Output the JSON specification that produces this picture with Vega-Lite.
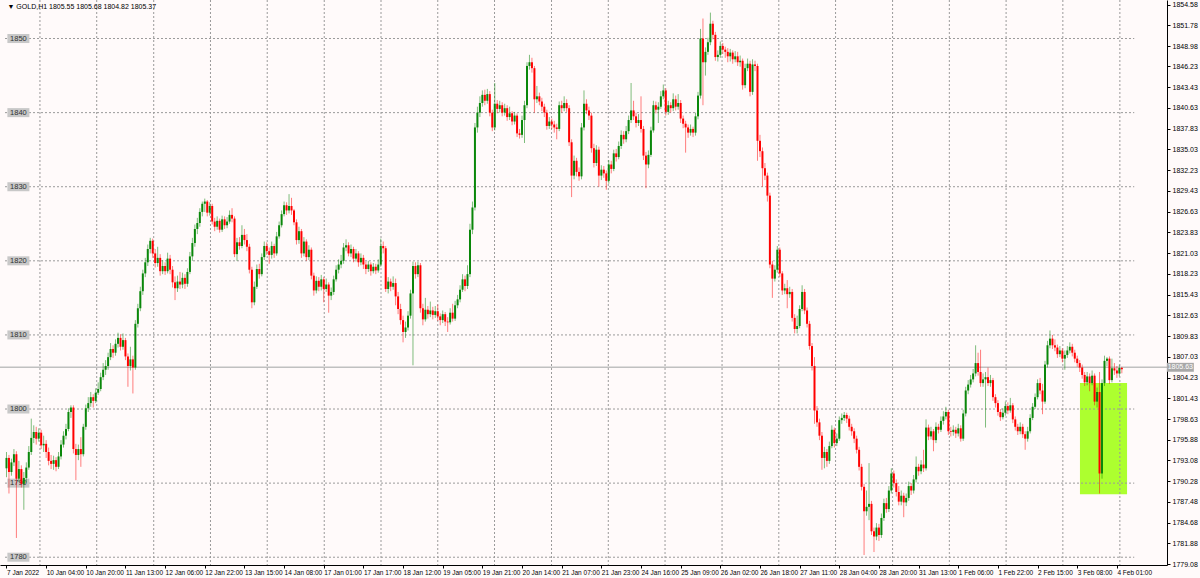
{
"$schema":"https://vega.github.io/schema/vega-lite/v6.json",
"width":1167,"height":565,
"autosize":{"type":"none"},
"padding":{"left":0,"top":0,"right":33,"bottom":13},
"background":"#fffafa",
"config":{"view":{"stroke":null},"axis":{"labelFont":"Liberation Sans","labelColor":"#000000","domainColor":"#000000","tickColor":"#000000","labelOverlap":false,"labelFlush":false,"labelBound":false,"grid":false,"title":null}},
"datasets":{
"head":[{"t":"▼ GOLD,H1  1805.55 1805.68 1804.82 1805.37"}],
"levels":[{"p":1780},{"p":1790},{"p":1800},{"p":1810},{"p":1820},{"p":1830},{"p":1840},{"p":1850}],
"vgrid":[{"g":13.5},{"g":36.4},{"g":59.4},{"g":82.3},{"g":105.2},{"g":128.2},{"g":151.1},{"g":174.0},{"g":196.9},{"g":219.9},{"g":242.8},{"g":265.7},{"g":288.7},{"g":311.6},{"g":334.5},{"g":357.5},{"g":380.4},{"g":403.3},{"g":426.2},{"g":449.2}],
"box":[{"x1":433.1,"x2":452.1,"y1":1788.5,"y2":1803.5}],
"bid":[{"p":1805.63,"t":"1805.63"}],
"bars":[
{"i":0,"o":1792.0,"h":1794.2,"l":1790.8,"c":1793.4},
{"i":1,"o":1793.4,"h":1793.8,"l":1788.6,"c":1791.5},
{"i":2,"o":1791.5,"h":1793.3,"l":1791.0,"c":1792.8},
{"i":3,"o":1792.8,"h":1794.6,"l":1792.3,"c":1793.9},
{"i":4,"o":1793.9,"h":1794.3,"l":1782.6,"c":1790.6},
{"i":5,"o":1790.6,"h":1793.0,"l":1790.2,"c":1791.9},
{"i":6,"o":1791.9,"h":1792.4,"l":1789.4,"c":1789.9},
{"i":7,"o":1789.9,"h":1791.5,"l":1786.4,"c":1790.7},
{"i":8,"o":1790.7,"h":1792.8,"l":1790.1,"c":1792.1},
{"i":9,"o":1792.1,"h":1795.0,"l":1791.8,"c":1794.2},
{"i":10,"o":1794.2,"h":1798.7,"l":1793.8,"c":1796.1},
{"i":11,"o":1796.1,"h":1797.8,"l":1795.4,"c":1796.9},
{"i":12,"o":1796.9,"h":1797.6,"l":1795.2,"c":1796.0},
{"i":13,"o":1796.0,"h":1797.4,"l":1795.6,"c":1796.8},
{"i":14,"o":1796.8,"h":1797.2,"l":1794.6,"c":1795.1},
{"i":15,"o":1795.1,"h":1796.4,"l":1794.2,"c":1795.3},
{"i":16,"o":1795.3,"h":1795.8,"l":1793.4,"c":1794.2},
{"i":17,"o":1794.2,"h":1794.8,"l":1792.4,"c":1793.0},
{"i":18,"o":1793.0,"h":1793.8,"l":1791.9,"c":1792.6},
{"i":19,"o":1792.6,"h":1793.7,"l":1791.8,"c":1793.1},
{"i":20,"o":1793.1,"h":1793.5,"l":1791.6,"c":1792.2},
{"i":21,"o":1792.2,"h":1794.2,"l":1791.9,"c":1793.6},
{"i":22,"o":1793.6,"h":1795.8,"l":1793.2,"c":1795.2},
{"i":23,"o":1795.2,"h":1797.0,"l":1794.8,"c":1796.4},
{"i":24,"o":1796.4,"h":1798.0,"l":1795.9,"c":1797.3},
{"i":25,"o":1797.3,"h":1800.1,"l":1797.0,"c":1799.6},
{"i":26,"o":1799.6,"h":1800.5,"l":1798.8,"c":1800.2},
{"i":27,"o":1800.2,"h":1800.5,"l":1794.0,"c":1794.6},
{"i":28,"o":1794.6,"h":1795.3,"l":1790.4,"c":1793.8},
{"i":29,"o":1793.8,"h":1795.2,"l":1793.1,"c":1794.6},
{"i":30,"o":1794.6,"h":1796.2,"l":1792.2,"c":1793.9},
{"i":31,"o":1793.9,"h":1798.0,"l":1793.6,"c":1797.6},
{"i":32,"o":1797.6,"h":1800.6,"l":1797.2,"c":1800.1},
{"i":33,"o":1800.1,"h":1801.6,"l":1799.6,"c":1800.8},
{"i":34,"o":1800.8,"h":1802.3,"l":1800.3,"c":1801.6},
{"i":35,"o":1801.6,"h":1802.0,"l":1800.2,"c":1801.1},
{"i":36,"o":1801.1,"h":1802.8,"l":1800.8,"c":1802.2},
{"i":37,"o":1802.2,"h":1803.6,"l":1801.9,"c":1802.7},
{"i":38,"o":1802.7,"h":1804.9,"l":1802.4,"c":1804.3},
{"i":39,"o":1804.3,"h":1806.2,"l":1803.9,"c":1805.3},
{"i":40,"o":1805.3,"h":1806.6,"l":1804.6,"c":1805.8},
{"i":41,"o":1805.8,"h":1807.6,"l":1805.3,"c":1807.0},
{"i":42,"o":1807.0,"h":1808.9,"l":1806.6,"c":1808.1},
{"i":43,"o":1808.1,"h":1808.6,"l":1806.9,"c":1807.6},
{"i":44,"o":1807.6,"h":1809.4,"l":1807.2,"c":1808.8},
{"i":45,"o":1808.8,"h":1810.3,"l":1808.3,"c":1809.6},
{"i":46,"o":1809.6,"h":1810.1,"l":1807.9,"c":1808.4},
{"i":47,"o":1808.4,"h":1810.2,"l":1808.0,"c":1809.3},
{"i":48,"o":1809.3,"h":1809.6,"l":1806.6,"c":1807.1},
{"i":49,"o":1807.1,"h":1807.5,"l":1803.0,"c":1805.8},
{"i":50,"o":1805.8,"h":1808.4,"l":1805.2,"c":1806.7},
{"i":51,"o":1806.7,"h":1807.2,"l":1802.1,"c":1805.6},
{"i":52,"o":1805.6,"h":1812.0,"l":1805.3,"c":1811.5},
{"i":53,"o":1811.5,"h":1814.2,"l":1811.0,"c":1813.6},
{"i":54,"o":1813.6,"h":1816.5,"l":1813.2,"c":1815.9},
{"i":55,"o":1815.9,"h":1818.8,"l":1815.4,"c":1818.3},
{"i":56,"o":1818.3,"h":1820.4,"l":1817.8,"c":1819.8},
{"i":57,"o":1819.8,"h":1822.2,"l":1819.3,"c":1821.6},
{"i":58,"o":1821.6,"h":1823.1,"l":1821.0,"c":1822.7},
{"i":59,"o":1822.7,"h":1823.0,"l":1820.4,"c":1821.0},
{"i":60,"o":1821.0,"h":1821.6,"l":1819.1,"c":1819.7},
{"i":61,"o":1819.7,"h":1821.9,"l":1819.2,"c":1820.4},
{"i":62,"o":1820.4,"h":1820.9,"l":1818.0,"c":1818.6},
{"i":63,"o":1818.6,"h":1820.1,"l":1818.2,"c":1819.3},
{"i":64,"o":1819.3,"h":1819.8,"l":1818.1,"c":1818.6},
{"i":65,"o":1818.6,"h":1821.1,"l":1818.3,"c":1820.3},
{"i":66,"o":1820.3,"h":1820.8,"l":1818.2,"c":1818.8},
{"i":67,"o":1818.8,"h":1819.3,"l":1816.4,"c":1817.1},
{"i":68,"o":1817.1,"h":1817.9,"l":1814.7,"c":1816.3},
{"i":69,"o":1816.3,"h":1818.0,"l":1815.8,"c":1817.2},
{"i":70,"o":1817.2,"h":1818.5,"l":1816.2,"c":1816.8},
{"i":71,"o":1816.8,"h":1818.4,"l":1816.3,"c":1817.7},
{"i":72,"o":1817.7,"h":1818.2,"l":1816.2,"c":1816.9},
{"i":73,"o":1816.9,"h":1819.0,"l":1816.5,"c":1818.5},
{"i":74,"o":1818.5,"h":1821.2,"l":1818.2,"c":1820.6},
{"i":75,"o":1820.6,"h":1823.1,"l":1820.0,"c":1822.4},
{"i":76,"o":1822.4,"h":1824.9,"l":1821.9,"c":1824.3},
{"i":77,"o":1824.3,"h":1825.8,"l":1823.6,"c":1825.1},
{"i":78,"o":1825.1,"h":1827.1,"l":1824.6,"c":1826.6},
{"i":79,"o":1826.6,"h":1828.0,"l":1826.0,"c":1827.7},
{"i":80,"o":1827.7,"h":1828.4,"l":1826.6,"c":1828.0},
{"i":81,"o":1828.0,"h":1828.2,"l":1826.0,"c":1826.5},
{"i":82,"o":1826.5,"h":1827.9,"l":1826.1,"c":1827.4},
{"i":83,"o":1827.4,"h":1827.7,"l":1824.9,"c":1825.3},
{"i":84,"o":1825.3,"h":1825.8,"l":1824.0,"c":1824.6},
{"i":85,"o":1824.6,"h":1826.0,"l":1824.2,"c":1825.4},
{"i":86,"o":1825.4,"h":1825.7,"l":1823.8,"c":1824.2},
{"i":87,"o":1824.2,"h":1826.1,"l":1823.9,"c":1825.6},
{"i":88,"o":1825.6,"h":1826.0,"l":1824.3,"c":1824.8},
{"i":89,"o":1824.8,"h":1825.9,"l":1824.4,"c":1825.3},
{"i":90,"o":1825.3,"h":1826.8,"l":1825.0,"c":1826.2},
{"i":91,"o":1826.2,"h":1827.1,"l":1825.2,"c":1825.7},
{"i":92,"o":1825.7,"h":1826.0,"l":1820.5,"c":1820.9},
{"i":93,"o":1820.9,"h":1823.1,"l":1820.0,"c":1822.5},
{"i":94,"o":1822.5,"h":1823.2,"l":1821.5,"c":1822.0},
{"i":95,"o":1822.0,"h":1824.8,"l":1821.7,"c":1823.5},
{"i":96,"o":1823.5,"h":1824.3,"l":1822.2,"c":1822.8},
{"i":97,"o":1822.8,"h":1823.6,"l":1821.3,"c":1821.9},
{"i":98,"o":1821.9,"h":1822.3,"l":1818.3,"c":1818.8},
{"i":99,"o":1818.8,"h":1819.2,"l":1813.6,"c":1814.4},
{"i":100,"o":1814.4,"h":1817.2,"l":1814.0,"c":1816.5},
{"i":101,"o":1816.5,"h":1819.5,"l":1816.2,"c":1818.9},
{"i":102,"o":1818.9,"h":1819.6,"l":1817.6,"c":1818.2},
{"i":103,"o":1818.2,"h":1821.0,"l":1817.9,"c":1820.5},
{"i":104,"o":1820.5,"h":1822.6,"l":1820.1,"c":1822.0},
{"i":105,"o":1822.0,"h":1822.5,"l":1820.8,"c":1821.3},
{"i":106,"o":1821.3,"h":1821.8,"l":1819.6,"c":1820.8},
{"i":107,"o":1820.8,"h":1822.6,"l":1820.3,"c":1822.0},
{"i":108,"o":1822.0,"h":1822.3,"l":1820.4,"c":1821.0},
{"i":109,"o":1821.0,"h":1823.9,"l":1820.7,"c":1823.3},
{"i":110,"o":1823.3,"h":1825.3,"l":1823.0,"c":1824.8},
{"i":111,"o":1824.8,"h":1826.8,"l":1824.5,"c":1826.3},
{"i":112,"o":1826.3,"h":1828.0,"l":1826.0,"c":1827.5},
{"i":113,"o":1827.5,"h":1827.9,"l":1826.2,"c":1826.8},
{"i":114,"o":1826.8,"h":1829.0,"l":1826.4,"c":1827.4},
{"i":115,"o":1827.4,"h":1828.5,"l":1826.2,"c":1826.8},
{"i":116,"o":1826.8,"h":1827.0,"l":1824.8,"c":1825.2},
{"i":117,"o":1825.2,"h":1825.6,"l":1822.2,"c":1822.8},
{"i":118,"o":1822.8,"h":1824.6,"l":1822.3,"c":1824.0},
{"i":119,"o":1824.0,"h":1824.3,"l":1820.4,"c":1821.0},
{"i":120,"o":1821.0,"h":1823.2,"l":1820.6,"c":1822.6},
{"i":121,"o":1822.6,"h":1822.9,"l":1820.0,"c":1820.5},
{"i":122,"o":1820.5,"h":1822.1,"l":1820.1,"c":1821.5},
{"i":123,"o":1821.5,"h":1821.8,"l":1817.5,"c":1818.0},
{"i":124,"o":1818.0,"h":1818.4,"l":1815.3,"c":1816.0},
{"i":125,"o":1816.0,"h":1817.9,"l":1815.6,"c":1817.3},
{"i":126,"o":1817.3,"h":1817.8,"l":1815.9,"c":1816.5},
{"i":127,"o":1816.5,"h":1818.1,"l":1816.0,"c":1817.5},
{"i":128,"o":1817.5,"h":1817.8,"l":1814.4,"c":1816.2},
{"i":129,"o":1816.2,"h":1817.6,"l":1815.8,"c":1816.8},
{"i":130,"o":1816.8,"h":1817.1,"l":1813.0,"c":1815.3},
{"i":131,"o":1815.3,"h":1816.4,"l":1814.7,"c":1815.8},
{"i":132,"o":1815.8,"h":1818.0,"l":1815.4,"c":1817.5},
{"i":133,"o":1817.5,"h":1819.4,"l":1817.2,"c":1818.8},
{"i":134,"o":1818.8,"h":1820.2,"l":1818.3,"c":1819.5},
{"i":135,"o":1819.5,"h":1820.8,"l":1819.0,"c":1820.0},
{"i":136,"o":1820.0,"h":1822.4,"l":1819.6,"c":1821.8},
{"i":137,"o":1821.8,"h":1822.9,"l":1821.3,"c":1822.1},
{"i":138,"o":1822.1,"h":1822.5,"l":1820.6,"c":1821.0},
{"i":139,"o":1821.0,"h":1822.2,"l":1820.5,"c":1821.6},
{"i":140,"o":1821.6,"h":1821.9,"l":1819.8,"c":1820.3},
{"i":141,"o":1820.3,"h":1821.6,"l":1819.9,"c":1821.0},
{"i":142,"o":1821.0,"h":1821.3,"l":1819.2,"c":1819.8},
{"i":143,"o":1819.8,"h":1821.0,"l":1819.4,"c":1820.4},
{"i":144,"o":1820.4,"h":1820.8,"l":1818.9,"c":1819.5},
{"i":145,"o":1819.5,"h":1819.9,"l":1818.2,"c":1818.9},
{"i":146,"o":1818.9,"h":1820.0,"l":1818.5,"c":1819.5},
{"i":147,"o":1819.5,"h":1819.8,"l":1818.0,"c":1818.6},
{"i":148,"o":1818.6,"h":1819.7,"l":1818.3,"c":1819.2},
{"i":149,"o":1819.2,"h":1819.6,"l":1818.2,"c":1818.7},
{"i":150,"o":1818.7,"h":1820.2,"l":1818.4,"c":1819.5},
{"i":151,"o":1819.5,"h":1823.0,"l":1819.2,"c":1822.0},
{"i":152,"o":1822.0,"h":1822.6,"l":1821.0,"c":1821.7},
{"i":153,"o":1821.7,"h":1822.0,"l":1815.8,"c":1816.2},
{"i":154,"o":1816.2,"h":1817.8,"l":1815.6,"c":1817.2},
{"i":155,"o":1817.2,"h":1817.6,"l":1815.9,"c":1816.5},
{"i":156,"o":1816.5,"h":1817.9,"l":1816.1,"c":1817.0},
{"i":157,"o":1817.0,"h":1817.6,"l":1814.0,"c":1815.2},
{"i":158,"o":1815.2,"h":1815.8,"l":1812.8,"c":1813.5},
{"i":159,"o":1813.5,"h":1814.2,"l":1811.4,"c":1812.0},
{"i":160,"o":1812.0,"h":1812.6,"l":1809.0,"c":1810.4},
{"i":161,"o":1810.4,"h":1811.8,"l":1809.6,"c":1811.0},
{"i":162,"o":1811.0,"h":1813.2,"l":1810.6,"c":1812.6},
{"i":163,"o":1812.6,"h":1816.1,"l":1812.2,"c":1815.6},
{"i":164,"o":1815.6,"h":1819.9,"l":1805.9,"c":1819.3},
{"i":165,"o":1819.3,"h":1819.8,"l":1817.6,"c":1818.2},
{"i":166,"o":1818.2,"h":1819.9,"l":1817.8,"c":1819.4},
{"i":167,"o":1819.4,"h":1819.7,"l":1813.0,"c":1813.6},
{"i":168,"o":1813.6,"h":1814.2,"l":1811.3,"c":1812.1},
{"i":169,"o":1812.1,"h":1815.0,"l":1811.8,"c":1813.4},
{"i":170,"o":1813.4,"h":1813.9,"l":1812.2,"c":1812.8},
{"i":171,"o":1812.8,"h":1814.5,"l":1812.4,"c":1813.3},
{"i":172,"o":1813.3,"h":1813.8,"l":1812.1,"c":1812.7},
{"i":173,"o":1812.7,"h":1813.9,"l":1812.3,"c":1813.2},
{"i":174,"o":1813.2,"h":1814.1,"l":1811.9,"c":1812.5},
{"i":175,"o":1812.5,"h":1812.9,"l":1811.3,"c":1812.0},
{"i":176,"o":1812.0,"h":1813.3,"l":1811.6,"c":1812.8},
{"i":177,"o":1812.8,"h":1813.1,"l":1811.2,"c":1811.8},
{"i":178,"o":1811.8,"h":1812.4,"l":1810.4,"c":1811.7},
{"i":179,"o":1811.7,"h":1813.6,"l":1811.4,"c":1813.0},
{"i":180,"o":1813.0,"h":1814.2,"l":1811.8,"c":1812.2},
{"i":181,"o":1812.2,"h":1814.6,"l":1811.9,"c":1814.0},
{"i":182,"o":1814.0,"h":1815.4,"l":1813.6,"c":1814.8},
{"i":183,"o":1814.8,"h":1816.7,"l":1814.4,"c":1816.1},
{"i":184,"o":1816.1,"h":1818.2,"l":1815.8,"c":1817.5},
{"i":185,"o":1817.5,"h":1818.0,"l":1815.9,"c":1816.6},
{"i":186,"o":1816.6,"h":1819.4,"l":1816.2,"c":1818.2},
{"i":187,"o":1818.2,"h":1825.0,"l":1817.8,"c":1824.2},
{"i":188,"o":1824.2,"h":1828.0,"l":1823.6,"c":1827.2},
{"i":189,"o":1827.2,"h":1838.6,"l":1826.8,"c":1838.0},
{"i":190,"o":1838.0,"h":1840.8,"l":1837.3,"c":1840.0},
{"i":191,"o":1840.0,"h":1842.2,"l":1839.4,"c":1841.3},
{"i":192,"o":1841.3,"h":1843.0,"l":1840.8,"c":1842.4},
{"i":193,"o":1842.4,"h":1843.1,"l":1841.0,"c":1841.6},
{"i":194,"o":1841.6,"h":1843.2,"l":1841.2,"c":1842.5},
{"i":195,"o":1842.5,"h":1842.9,"l":1839.5,"c":1840.0},
{"i":196,"o":1840.0,"h":1840.4,"l":1837.5,"c":1838.0},
{"i":197,"o":1838.0,"h":1844.0,"l":1837.6,"c":1841.2},
{"i":198,"o":1841.2,"h":1841.7,"l":1839.9,"c":1840.5},
{"i":199,"o":1840.5,"h":1841.6,"l":1840.0,"c":1841.0},
{"i":200,"o":1841.0,"h":1841.4,"l":1839.5,"c":1840.0},
{"i":201,"o":1840.0,"h":1841.2,"l":1839.6,"c":1840.6},
{"i":202,"o":1840.6,"h":1841.0,"l":1838.9,"c":1839.4},
{"i":203,"o":1839.4,"h":1840.8,"l":1839.0,"c":1839.9},
{"i":204,"o":1839.9,"h":1840.2,"l":1838.3,"c":1838.8},
{"i":205,"o":1838.8,"h":1840.1,"l":1838.4,"c":1839.6},
{"i":206,"o":1839.6,"h":1839.9,"l":1836.7,"c":1837.2},
{"i":207,"o":1837.2,"h":1837.8,"l":1836.5,"c":1837.0},
{"i":208,"o":1837.0,"h":1839.6,"l":1836.6,"c":1839.0},
{"i":209,"o":1839.0,"h":1841.6,"l":1835.9,"c":1841.0},
{"i":210,"o":1841.0,"h":1846.8,"l":1840.6,"c":1846.3},
{"i":211,"o":1846.3,"h":1847.8,"l":1845.8,"c":1846.8},
{"i":212,"o":1846.8,"h":1847.4,"l":1845.4,"c":1846.0},
{"i":213,"o":1846.0,"h":1846.3,"l":1840.0,"c":1841.8},
{"i":214,"o":1841.8,"h":1843.6,"l":1841.3,"c":1842.2},
{"i":215,"o":1842.2,"h":1842.7,"l":1841.0,"c":1841.5},
{"i":216,"o":1841.5,"h":1842.0,"l":1840.2,"c":1840.8},
{"i":217,"o":1840.8,"h":1841.2,"l":1839.4,"c":1840.0},
{"i":218,"o":1840.0,"h":1840.4,"l":1837.7,"c":1838.2},
{"i":219,"o":1838.2,"h":1839.4,"l":1837.8,"c":1838.8},
{"i":220,"o":1838.8,"h":1839.2,"l":1837.8,"c":1838.4},
{"i":221,"o":1838.4,"h":1838.9,"l":1837.3,"c":1838.0},
{"i":222,"o":1838.0,"h":1838.5,"l":1836.4,"c":1837.8},
{"i":223,"o":1837.8,"h":1841.5,"l":1837.5,"c":1841.0},
{"i":224,"o":1841.0,"h":1841.6,"l":1840.0,"c":1840.6},
{"i":225,"o":1840.6,"h":1842.2,"l":1840.2,"c":1841.3},
{"i":226,"o":1841.3,"h":1841.8,"l":1840.1,"c":1840.6},
{"i":227,"o":1840.6,"h":1841.0,"l":1835.5,"c":1836.0},
{"i":228,"o":1836.0,"h":1836.4,"l":1828.6,"c":1831.5},
{"i":229,"o":1831.5,"h":1834.2,"l":1831.0,"c":1833.5},
{"i":230,"o":1833.5,"h":1833.9,"l":1831.4,"c":1832.0},
{"i":231,"o":1832.0,"h":1832.6,"l":1830.8,"c":1831.4},
{"i":232,"o":1831.4,"h":1838.6,"l":1831.0,"c":1838.0},
{"i":233,"o":1838.0,"h":1843.0,"l":1837.6,"c":1841.2},
{"i":234,"o":1841.2,"h":1841.8,"l":1839.8,"c":1840.3},
{"i":235,"o":1840.3,"h":1840.8,"l":1839.0,"c":1839.6},
{"i":236,"o":1839.6,"h":1840.0,"l":1834.6,"c":1835.2},
{"i":237,"o":1835.2,"h":1835.8,"l":1832.6,"c":1833.2},
{"i":238,"o":1833.2,"h":1835.6,"l":1832.8,"c":1835.0},
{"i":239,"o":1835.0,"h":1835.4,"l":1830.0,"c":1831.5},
{"i":240,"o":1831.5,"h":1832.9,"l":1830.9,"c":1832.3},
{"i":241,"o":1832.3,"h":1832.8,"l":1831.2,"c":1831.8},
{"i":242,"o":1831.8,"h":1832.2,"l":1829.6,"c":1830.8},
{"i":243,"o":1830.8,"h":1833.6,"l":1830.4,"c":1833.0},
{"i":244,"o":1833.0,"h":1833.5,"l":1831.8,"c":1832.4},
{"i":245,"o":1832.4,"h":1835.0,"l":1832.1,"c":1834.5},
{"i":246,"o":1834.5,"h":1835.1,"l":1833.4,"c":1834.0},
{"i":247,"o":1834.0,"h":1836.1,"l":1833.7,"c":1835.5},
{"i":248,"o":1835.5,"h":1837.6,"l":1835.1,"c":1837.0},
{"i":249,"o":1837.0,"h":1837.5,"l":1835.8,"c":1836.4},
{"i":250,"o":1836.4,"h":1838.2,"l":1836.0,"c":1837.5},
{"i":251,"o":1837.5,"h":1839.6,"l":1837.1,"c":1839.0},
{"i":252,"o":1839.0,"h":1844.0,"l":1838.6,"c":1840.3},
{"i":253,"o":1840.3,"h":1841.6,"l":1839.0,"c":1839.5},
{"i":254,"o":1839.5,"h":1840.0,"l":1838.0,"c":1838.6},
{"i":255,"o":1838.6,"h":1839.8,"l":1838.2,"c":1839.0},
{"i":256,"o":1839.0,"h":1842.2,"l":1837.3,"c":1837.8},
{"i":257,"o":1837.8,"h":1838.2,"l":1833.6,"c":1834.2},
{"i":258,"o":1834.2,"h":1834.7,"l":1829.8,"c":1833.0},
{"i":259,"o":1833.0,"h":1834.9,"l":1832.5,"c":1834.3},
{"i":260,"o":1834.3,"h":1838.1,"l":1834.0,"c":1837.6},
{"i":261,"o":1837.6,"h":1841.6,"l":1837.3,"c":1841.0},
{"i":262,"o":1841.0,"h":1841.5,"l":1839.9,"c":1840.4},
{"i":263,"o":1840.4,"h":1841.4,"l":1838.6,"c":1840.8},
{"i":264,"o":1840.8,"h":1842.9,"l":1840.5,"c":1842.2},
{"i":265,"o":1842.2,"h":1843.8,"l":1841.8,"c":1843.0},
{"i":266,"o":1843.0,"h":1843.3,"l":1839.6,"c":1840.1},
{"i":267,"o":1840.1,"h":1841.6,"l":1839.7,"c":1841.0},
{"i":268,"o":1841.0,"h":1841.4,"l":1840.0,"c":1840.6},
{"i":269,"o":1840.6,"h":1842.6,"l":1840.2,"c":1841.8},
{"i":270,"o":1841.8,"h":1842.3,"l":1840.3,"c":1840.8},
{"i":271,"o":1840.8,"h":1842.5,"l":1840.4,"c":1841.3},
{"i":272,"o":1841.3,"h":1841.7,"l":1838.6,"c":1839.2},
{"i":273,"o":1839.2,"h":1839.6,"l":1837.9,"c":1838.5},
{"i":274,"o":1838.5,"h":1838.9,"l":1834.6,"c":1838.0},
{"i":275,"o":1838.0,"h":1838.4,"l":1836.6,"c":1837.3},
{"i":276,"o":1837.3,"h":1838.4,"l":1836.9,"c":1837.8},
{"i":277,"o":1837.8,"h":1838.1,"l":1836.7,"c":1837.3},
{"i":278,"o":1837.3,"h":1840.0,"l":1836.9,"c":1839.5},
{"i":279,"o":1839.5,"h":1842.8,"l":1839.1,"c":1842.3},
{"i":280,"o":1842.3,"h":1851.3,"l":1841.9,"c":1850.0},
{"i":281,"o":1850.0,"h":1852.7,"l":1841.0,"c":1846.8},
{"i":282,"o":1846.8,"h":1848.8,"l":1845.0,"c":1848.2},
{"i":283,"o":1848.2,"h":1850.1,"l":1847.8,"c":1849.5},
{"i":284,"o":1849.5,"h":1853.5,"l":1849.1,"c":1852.0},
{"i":285,"o":1852.0,"h":1852.4,"l":1849.9,"c":1850.5},
{"i":286,"o":1850.5,"h":1850.9,"l":1847.0,"c":1847.5},
{"i":287,"o":1847.5,"h":1848.4,"l":1846.9,"c":1847.8},
{"i":288,"o":1847.8,"h":1849.6,"l":1847.4,"c":1849.0},
{"i":289,"o":1849.0,"h":1849.4,"l":1847.9,"c":1848.5},
{"i":290,"o":1848.5,"h":1848.9,"l":1847.4,"c":1848.2},
{"i":291,"o":1848.2,"h":1848.7,"l":1846.8,"c":1847.6},
{"i":292,"o":1847.6,"h":1848.6,"l":1846.9,"c":1848.1},
{"i":293,"o":1848.1,"h":1848.4,"l":1846.6,"c":1847.2},
{"i":294,"o":1847.2,"h":1848.3,"l":1846.8,"c":1847.6},
{"i":295,"o":1847.6,"h":1848.2,"l":1846.3,"c":1846.8},
{"i":296,"o":1846.8,"h":1847.7,"l":1846.2,"c":1847.0},
{"i":297,"o":1847.0,"h":1847.3,"l":1843.1,"c":1843.7},
{"i":298,"o":1843.7,"h":1846.6,"l":1843.3,"c":1846.0},
{"i":299,"o":1846.0,"h":1847.3,"l":1845.6,"c":1846.6},
{"i":300,"o":1846.6,"h":1847.0,"l":1842.2,"c":1842.8},
{"i":301,"o":1842.8,"h":1847.2,"l":1842.4,"c":1846.5},
{"i":302,"o":1846.5,"h":1847.0,"l":1845.6,"c":1846.3},
{"i":303,"o":1846.3,"h":1846.6,"l":1833.5,"c":1836.2},
{"i":304,"o":1836.2,"h":1837.0,"l":1834.0,"c":1834.8},
{"i":305,"o":1834.8,"h":1835.3,"l":1830.0,"c":1832.5},
{"i":306,"o":1832.5,"h":1833.2,"l":1830.9,"c":1831.5},
{"i":307,"o":1831.5,"h":1831.9,"l":1828.0,"c":1828.8},
{"i":308,"o":1828.8,"h":1829.2,"l":1819.0,"c":1819.5},
{"i":309,"o":1819.5,"h":1820.0,"l":1815.0,"c":1817.6},
{"i":310,"o":1817.6,"h":1819.4,"l":1817.2,"c":1818.8},
{"i":311,"o":1818.8,"h":1822.0,"l":1818.4,"c":1821.5},
{"i":312,"o":1821.5,"h":1821.8,"l":1817.8,"c":1818.3},
{"i":313,"o":1818.3,"h":1818.6,"l":1815.4,"c":1816.0},
{"i":314,"o":1816.0,"h":1816.9,"l":1815.5,"c":1816.3},
{"i":315,"o":1816.3,"h":1817.4,"l":1813.6,"c":1815.5},
{"i":316,"o":1815.5,"h":1816.5,"l":1815.0,"c":1815.8},
{"i":317,"o":1815.8,"h":1816.2,"l":1811.8,"c":1812.3},
{"i":318,"o":1812.3,"h":1812.8,"l":1810.2,"c":1810.8},
{"i":319,"o":1810.8,"h":1812.6,"l":1810.2,"c":1811.2},
{"i":320,"o":1811.2,"h":1814.0,"l":1810.9,"c":1813.5},
{"i":321,"o":1813.5,"h":1816.7,"l":1813.2,"c":1815.8},
{"i":322,"o":1815.8,"h":1816.2,"l":1812.8,"c":1813.3},
{"i":323,"o":1813.3,"h":1813.7,"l":1811.0,"c":1811.5},
{"i":324,"o":1811.5,"h":1811.9,"l":1808.0,"c":1808.5},
{"i":325,"o":1808.5,"h":1808.9,"l":1805.2,"c":1805.8},
{"i":326,"o":1805.8,"h":1807.0,"l":1798.0,"c":1799.8},
{"i":327,"o":1799.8,"h":1800.4,"l":1797.6,"c":1798.2},
{"i":328,"o":1798.2,"h":1798.7,"l":1795.8,"c":1796.4},
{"i":329,"o":1796.4,"h":1796.9,"l":1791.8,"c":1793.4},
{"i":330,"o":1793.4,"h":1794.9,"l":1792.0,"c":1794.2},
{"i":331,"o":1794.2,"h":1794.6,"l":1792.2,"c":1793.0},
{"i":332,"o":1793.0,"h":1795.6,"l":1792.6,"c":1795.0},
{"i":333,"o":1795.0,"h":1797.8,"l":1794.7,"c":1797.2},
{"i":334,"o":1797.2,"h":1797.5,"l":1794.8,"c":1795.4},
{"i":335,"o":1795.4,"h":1796.7,"l":1795.0,"c":1796.0},
{"i":336,"o":1796.0,"h":1799.0,"l":1795.7,"c":1798.5},
{"i":337,"o":1798.5,"h":1799.4,"l":1798.0,"c":1798.8},
{"i":338,"o":1798.8,"h":1799.6,"l":1798.4,"c":1799.2},
{"i":339,"o":1799.2,"h":1799.5,"l":1798.1,"c":1798.7},
{"i":340,"o":1798.7,"h":1799.1,"l":1797.1,"c":1797.6},
{"i":341,"o":1797.6,"h":1798.0,"l":1796.4,"c":1797.0},
{"i":342,"o":1797.0,"h":1797.4,"l":1795.4,"c":1796.0},
{"i":343,"o":1796.0,"h":1796.4,"l":1794.0,"c":1794.5},
{"i":344,"o":1794.5,"h":1794.9,"l":1791.7,"c":1792.2},
{"i":345,"o":1792.2,"h":1792.6,"l":1789.0,"c":1789.5},
{"i":346,"o":1789.5,"h":1789.9,"l":1780.3,"c":1786.2},
{"i":347,"o":1786.2,"h":1789.0,"l":1785.6,"c":1786.8},
{"i":348,"o":1786.8,"h":1792.7,"l":1785.0,"c":1787.2},
{"i":349,"o":1787.2,"h":1787.6,"l":1783.0,"c":1783.5},
{"i":350,"o":1783.5,"h":1784.0,"l":1780.7,"c":1782.8},
{"i":351,"o":1782.8,"h":1784.6,"l":1782.3,"c":1784.0},
{"i":352,"o":1784.0,"h":1784.5,"l":1782.2,"c":1783.0},
{"i":353,"o":1783.0,"h":1785.9,"l":1782.6,"c":1785.3},
{"i":354,"o":1785.3,"h":1787.9,"l":1784.9,"c":1787.3},
{"i":355,"o":1787.3,"h":1788.0,"l":1786.0,"c":1786.5},
{"i":356,"o":1786.5,"h":1789.6,"l":1786.1,"c":1789.0},
{"i":357,"o":1789.0,"h":1792.0,"l":1788.6,"c":1791.3},
{"i":358,"o":1791.3,"h":1791.7,"l":1789.4,"c":1790.0},
{"i":359,"o":1790.0,"h":1790.5,"l":1788.2,"c":1788.8},
{"i":360,"o":1788.8,"h":1789.6,"l":1787.0,"c":1787.5},
{"i":361,"o":1787.5,"h":1789.0,"l":1787.0,"c":1788.3},
{"i":362,"o":1788.3,"h":1788.7,"l":1785.4,"c":1787.4},
{"i":363,"o":1787.4,"h":1788.6,"l":1786.9,"c":1788.0},
{"i":364,"o":1788.0,"h":1790.2,"l":1787.6,"c":1789.6},
{"i":365,"o":1789.6,"h":1790.0,"l":1788.4,"c":1789.0},
{"i":366,"o":1789.0,"h":1791.1,"l":1788.6,"c":1790.5},
{"i":367,"o":1790.5,"h":1793.6,"l":1790.1,"c":1792.2},
{"i":368,"o":1792.2,"h":1792.6,"l":1791.0,"c":1791.6},
{"i":369,"o":1791.6,"h":1793.1,"l":1791.2,"c":1792.5},
{"i":370,"o":1792.5,"h":1794.5,"l":1791.5,"c":1792.0},
{"i":371,"o":1792.0,"h":1798.6,"l":1791.7,"c":1797.5},
{"i":372,"o":1797.5,"h":1797.9,"l":1795.8,"c":1796.3},
{"i":373,"o":1796.3,"h":1797.6,"l":1795.9,"c":1797.0},
{"i":374,"o":1797.0,"h":1797.3,"l":1794.3,"c":1795.8},
{"i":375,"o":1795.8,"h":1798.2,"l":1795.4,"c":1797.6},
{"i":376,"o":1797.6,"h":1798.0,"l":1796.7,"c":1797.2},
{"i":377,"o":1797.2,"h":1799.0,"l":1796.9,"c":1798.4},
{"i":378,"o":1798.4,"h":1799.7,"l":1797.9,"c":1799.0},
{"i":379,"o":1799.0,"h":1800.3,"l":1798.6,"c":1799.6},
{"i":380,"o":1799.6,"h":1799.9,"l":1796.5,"c":1797.0},
{"i":381,"o":1797.0,"h":1797.6,"l":1796.3,"c":1796.9},
{"i":382,"o":1796.9,"h":1797.8,"l":1796.4,"c":1797.2},
{"i":383,"o":1797.2,"h":1797.6,"l":1796.1,"c":1796.7},
{"i":384,"o":1796.7,"h":1798.0,"l":1796.3,"c":1797.4},
{"i":385,"o":1797.4,"h":1797.8,"l":1795.6,"c":1796.0},
{"i":386,"o":1796.0,"h":1799.9,"l":1795.7,"c":1799.4},
{"i":387,"o":1799.4,"h":1803.0,"l":1799.0,"c":1802.5},
{"i":388,"o":1802.5,"h":1803.9,"l":1802.0,"c":1803.3},
{"i":389,"o":1803.3,"h":1804.6,"l":1802.9,"c":1804.0},
{"i":390,"o":1804.0,"h":1805.4,"l":1803.6,"c":1804.8},
{"i":391,"o":1804.8,"h":1808.6,"l":1804.4,"c":1806.2},
{"i":392,"o":1806.2,"h":1807.6,"l":1804.5,"c":1805.0},
{"i":393,"o":1805.0,"h":1808.0,"l":1803.0,"c":1803.5},
{"i":394,"o":1803.5,"h":1804.8,"l":1803.0,"c":1804.0},
{"i":395,"o":1804.0,"h":1805.0,"l":1797.5,"c":1804.3},
{"i":396,"o":1804.3,"h":1805.6,"l":1803.1,"c":1803.5},
{"i":397,"o":1803.5,"h":1804.6,"l":1803.0,"c":1803.9},
{"i":398,"o":1803.9,"h":1804.2,"l":1801.1,"c":1801.6},
{"i":399,"o":1801.6,"h":1802.0,"l":1800.2,"c":1800.8},
{"i":400,"o":1800.8,"h":1801.2,"l":1799.1,"c":1799.6},
{"i":401,"o":1799.6,"h":1800.0,"l":1798.4,"c":1798.9},
{"i":402,"o":1798.9,"h":1800.1,"l":1798.6,"c":1799.5},
{"i":403,"o":1799.5,"h":1801.0,"l":1799.1,"c":1800.4},
{"i":404,"o":1800.4,"h":1800.9,"l":1799.3,"c":1799.8},
{"i":405,"o":1799.8,"h":1801.5,"l":1799.5,"c":1800.5},
{"i":406,"o":1800.5,"h":1800.8,"l":1798.1,"c":1798.6},
{"i":407,"o":1798.6,"h":1799.0,"l":1797.1,"c":1797.6},
{"i":408,"o":1797.6,"h":1798.0,"l":1796.5,"c":1797.0},
{"i":409,"o":1797.0,"h":1798.2,"l":1796.6,"c":1797.6},
{"i":410,"o":1797.6,"h":1798.0,"l":1796.1,"c":1796.6},
{"i":411,"o":1796.6,"h":1797.0,"l":1794.5,"c":1796.0},
{"i":412,"o":1796.0,"h":1797.6,"l":1795.6,"c":1797.0},
{"i":413,"o":1797.0,"h":1799.3,"l":1796.7,"c":1798.8},
{"i":414,"o":1798.8,"h":1800.8,"l":1798.5,"c":1800.3},
{"i":415,"o":1800.3,"h":1802.1,"l":1800.0,"c":1801.6},
{"i":416,"o":1801.6,"h":1804.0,"l":1801.3,"c":1803.5},
{"i":417,"o":1803.5,"h":1804.2,"l":1802.0,"c":1802.5},
{"i":418,"o":1802.5,"h":1803.4,"l":1799.3,"c":1801.0},
{"i":419,"o":1801.0,"h":1806.5,"l":1800.7,"c":1806.0},
{"i":420,"o":1806.0,"h":1809.2,"l":1805.6,"c":1808.6},
{"i":421,"o":1808.6,"h":1810.6,"l":1808.2,"c":1809.5},
{"i":422,"o":1809.5,"h":1810.0,"l":1808.1,"c":1808.6},
{"i":423,"o":1808.6,"h":1809.4,"l":1807.8,"c":1808.3},
{"i":424,"o":1808.3,"h":1808.7,"l":1806.9,"c":1807.4},
{"i":425,"o":1807.4,"h":1808.5,"l":1807.0,"c":1807.9},
{"i":426,"o":1807.9,"h":1808.2,"l":1806.3,"c":1806.8},
{"i":427,"o":1806.8,"h":1807.9,"l":1805.3,"c":1807.3},
{"i":428,"o":1807.3,"h":1808.5,"l":1806.9,"c":1807.9},
{"i":429,"o":1807.9,"h":1809.0,"l":1807.5,"c":1808.4},
{"i":430,"o":1808.4,"h":1808.8,"l":1807.1,"c":1807.6},
{"i":431,"o":1807.6,"h":1808.0,"l":1806.3,"c":1806.8},
{"i":432,"o":1806.8,"h":1807.2,"l":1805.7,"c":1806.2},
{"i":433,"o":1806.2,"h":1806.6,"l":1805.0,"c":1805.6},
{"i":434,"o":1805.6,"h":1806.0,"l":1804.1,"c":1804.6},
{"i":435,"o":1804.6,"h":1805.0,"l":1803.1,"c":1803.6},
{"i":436,"o":1803.6,"h":1805.0,"l":1803.2,"c":1804.4},
{"i":437,"o":1804.4,"h":1804.8,"l":1802.4,"c":1803.5},
{"i":438,"o":1803.5,"h":1805.2,"l":1803.2,"c":1804.5},
{"i":439,"o":1804.5,"h":1804.8,"l":1800.5,"c":1801.0},
{"i":440,"o":1801.0,"h":1802.9,"l":1800.2,"c":1802.3},
{"i":441,"o":1802.3,"h":1805.0,"l":1788.6,"c":1791.3},
{"i":442,"o":1791.3,"h":1804.0,"l":1790.6,"c":1803.5},
{"i":443,"o":1803.5,"h":1807.2,"l":1803.1,"c":1806.5},
{"i":444,"o":1806.5,"h":1807.0,"l":1805.8,"c":1806.8},
{"i":445,"o":1806.8,"h":1807.1,"l":1803.4,"c":1803.9},
{"i":446,"o":1803.9,"h":1806.8,"l":1803.6,"c":1805.5},
{"i":447,"o":1805.5,"h":1806.2,"l":1804.6,"c":1805.2},
{"i":448,"o":1805.2,"h":1805.8,"l":1804.2,"c":1804.8},
{"i":449,"o":1804.8,"h":1806.0,"l":1804.4,"c":1805.55},
{"i":450,"o":1805.55,"h":1805.68,"l":1804.82,"c":1805.37}
]},
"layer":[
{"data":{"name":"box"},"mark":{"type":"rect","color":"#adff2f"},
 "encoding":{"x":{"field":"x1","type":"quantitative","scale":{"domain":[-0.6,466.2],"nice":false,"zero":false},
   "axis":{"orient":"bottom","tickCount":60,"values":[0,16,32,48,64,80,96,112,128,144,160,176,192,208,224,240,256,272,288,304,320,336,352,368,384,400,416,432,448],
   "labelExpr":"['7 Jan 2022','10 Jan 04:00','10 Jan 20:00','11 Jan 13:00','12 Jan 06:00','12 Jan 22:00','13 Jan 15:00','14 Jan 08:00','17 Jan 01:00','17 Jan 17:00','18 Jan 12:00','19 Jan 05:00','19 Jan 21:00','20 Jan 14:00','21 Jan 07:00','21 Jan 23:00','24 Jan 16:00','25 Jan 09:00','26 Jan 02:00','26 Jan 18:00','27 Jan 11:00','28 Jan 04:00','28 Jan 20:00','31 Jan 13:00','1 Feb 06:00','1 Feb 22:00','2 Feb 15:00','3 Feb 08:00','4 Feb 01:00'][round(datum.value / 16)]",
   "labelAlign":"left","labelFontSize":6.5,"labelPadding":1,"tickSize":3,"labelOverlap":false}},
  "x2":{"field":"x2"},
  "y":{"field":"y1","type":"quantitative","scale":{"domain":[1778.95,1855.2],"nice":false,"zero":false},
   "axis":{"orient":"right","tickCount":60,"values":[1854.58,1851.78,1848.98,1846.23,1843.43,1840.63,1837.83,1835.03,1832.23,1829.43,1826.63,1823.83,1821.03,1818.23,1815.43,1812.63,1809.83,1807.03,1804.23,1801.43,1798.63,1795.88,1793.08,1790.28,1787.48,1784.68,1781.88,1779.08],
   "format":".2f","labelFontSize":7,"labelPadding":2,"tickSize":3,"labelOverlap":false}},
  "y2":{"field":"y2"}}},
{"data":{"name":"levels"},"mark":{"type":"rule","color":"#9a9a9a","strokeDash":[2,2],"strokeWidth":1},
 "encoding":{"y":{"field":"p","type":"quantitative"},"x":{"datum":-0.6},"x2":{"datum":455}}},
{"data":{"name":"vgrid"},"mark":{"type":"rule","color":"#9a9a9a","strokeDash":[2,2],"strokeWidth":1},
 "encoding":{"x":{"field":"g","type":"quantitative"}}},
{"data":{"name":"bid"},"mark":{"type":"rule","color":"#c0c0c0","strokeWidth":1.5},
 "encoding":{"y":{"field":"p","type":"quantitative"}}},
{"data":{"name":"levels"},"mark":{"type":"point","shape":"M-1,-0.41H1V0.41H-1Z","filled":true,"color":"#c8c8c8","opacity":1,"size":484},
 "encoding":{"y":{"field":"p","type":"quantitative"},"x":{"datum":4.8}}},
{"data":{"name":"levels"},"mark":{"type":"text","font":"Liberation Sans","fontSize":7.5,"color":"#303030","align":"center","baseline":"middle"},
 "encoding":{"y":{"field":"p","type":"quantitative"},"x":{"datum":4.8},"text":{"field":"p","type":"quantitative","format":"d"}}},
{"data":{"name":"bars"},"mark":{"type":"rule","strokeWidth":1,"opacity":0.5},
 "encoding":{"x":{"field":"i","type":"quantitative"},"y":{"field":"l","type":"quantitative"},"y2":{"field":"h"},
  "color":{"condition":{"test":"datum.c >= datum.o","value":"#008000"},"value":"#ff0000"}}},
{"data":{"name":"bars"},"mark":{"type":"bar","size":2},
 "encoding":{"x":{"field":"i","type":"quantitative"},"y":{"field":"o","type":"quantitative"},"y2":{"field":"c"},
  "color":{"condition":{"test":"datum.c >= datum.o","value":"#0a870a"},"value":"#ff0000"}}},
{"data":{"name":"bid"},"mark":{"type":"point","shape":"M-1,-0.33H1V0.33H-1Z","filled":true,"color":"#a8a8a8","opacity":1,"size":729},
 "encoding":{"y":{"field":"p","type":"quantitative"},"x":{"datum":473.6}}},
{"data":{"name":"bid"},"mark":{"type":"text","font":"Liberation Sans","fontSize":7,"color":"#ffffff","align":"center","baseline":"middle"},
 "encoding":{"y":{"field":"p","type":"quantitative"},"x":{"datum":473.6},"text":{"field":"t"}}},
{"data":{"name":"head"},"mark":{"type":"text","font":"Liberation Sans","fontSize":7,"color":"#000000","align":"left","baseline":"middle"},
 "encoding":{"x":{"datum":0.4},"y":{"datum":1854.3},"text":{"field":"t"}}}
]
}
